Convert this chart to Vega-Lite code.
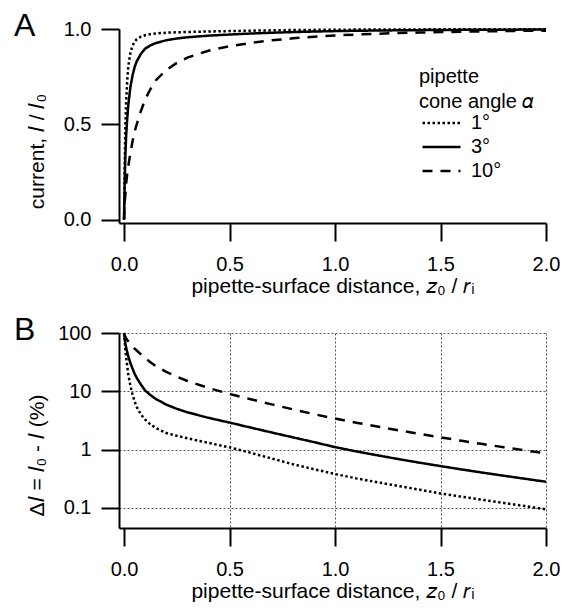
{
 "$schema": "https://vega.github.io/schema/vega-lite/v6.json",
 "background": "white",
 "padding": {"left": 14, "top": 10, "right": 6, "bottom": 2},
 "spacing": 18,
 "config": {
  "font": "Liberation Sans",
  "view": {"stroke": null},
  "axis": {"domainColor": "black", "domainWidth": 2, "tickColor": "black", "tickWidth": 2, "tickSize": 18, "labelFontSize": 20, "titleFontSize": 21, "labelColor": "black", "titleColor": "black", "titleFontWeight": "normal", "labelFont": "Liberation Sans", "titleFont": "Liberation Sans", "gridColor": "#555555", "gridDash": [2, 2], "gridWidth": 1, "labelFlush": false, "labelOverlap": false},
  "axisX": {"labelPadding": 13, "titlePadding": 1},
  "axisY": {"labelPadding": 10, "titleX": -72, "titleY": 122},
  "title": {"fontSize": 32, "fontWeight": "normal", "anchor": "start", "frame": "group", "color": "black", "font": "Liberation Sans", "offset": 0, "dx": -105, "dy": 28, "baseline": "alphabetic"}
 },
 "datasets": {"curves": [
  {"z": 0, "angle": "1°", "I": 0, "dI": 100},
  {"z": 0.003, "angle": "1°", "I": 0.28, "dI": 72},
  {"z": 0.006, "angle": "1°", "I": 0.48, "dI": 52},
  {"z": 0.01, "angle": "1°", "I": 0.62, "dI": 38},
  {"z": 0.015, "angle": "1°", "I": 0.73, "dI": 27},
  {"z": 0.02, "angle": "1°", "I": 0.805, "dI": 19.5},
  {"z": 0.03, "angle": "1°", "I": 0.875, "dI": 12.5},
  {"z": 0.04, "angle": "1°", "I": 0.912, "dI": 8.8},
  {"z": 0.05, "angle": "1°", "I": 0.933, "dI": 6.7},
  {"z": 0.06, "angle": "1°", "I": 0.946, "dI": 5.4},
  {"z": 0.08, "angle": "1°", "I": 0.96, "dI": 4.0},
  {"z": 0.1, "angle": "1°", "I": 0.9675, "dI": 3.25},
  {"z": 0.125, "angle": "1°", "I": 0.973, "dI": 2.7},
  {"z": 0.15, "angle": "1°", "I": 0.9765, "dI": 2.35},
  {"z": 0.2, "angle": "1°", "I": 0.9808, "dI": 1.92},
  {"z": 0.25, "angle": "1°", "I": 0.9828, "dI": 1.72},
  {"z": 0.3, "angle": "1°", "I": 0.9844, "dI": 1.56},
  {"z": 0.4, "angle": "1°", "I": 0.987, "dI": 1.3},
  {"z": 0.5, "angle": "1°", "I": 0.9891, "dI": 1.09},
  {"z": 0.6, "angle": "1°", "I": 0.9912, "dI": 0.88},
  {"z": 0.7, "angle": "1°", "I": 0.993, "dI": 0.7},
  {"z": 0.8, "angle": "1°", "I": 0.9944, "dI": 0.56},
  {"z": 0.9, "angle": "1°", "I": 0.9954, "dI": 0.46},
  {"z": 1.0, "angle": "1°", "I": 0.9962, "dI": 0.38},
  {"z": 1.1, "angle": "1°", "I": 0.9968, "dI": 0.32},
  {"z": 1.2, "angle": "1°", "I": 0.99725, "dI": 0.275},
  {"z": 1.3, "angle": "1°", "I": 0.99763, "dI": 0.237},
  {"z": 1.4, "angle": "1°", "I": 0.99795, "dI": 0.205},
  {"z": 1.5, "angle": "1°", "I": 0.99824, "dI": 0.176},
  {"z": 1.6, "angle": "1°", "I": 0.99845, "dI": 0.155},
  {"z": 1.7, "angle": "1°", "I": 0.99863, "dI": 0.137},
  {"z": 1.8, "angle": "1°", "I": 0.99879, "dI": 0.121},
  {"z": 1.9, "angle": "1°", "I": 0.99893, "dI": 0.107},
  {"z": 2.0, "angle": "1°", "I": 0.99906, "dI": 0.094},
  {"z": 0, "angle": "3°", "I": 0, "dI": 100},
  {"z": 0.003, "angle": "3°", "I": 0.2, "dI": 80},
  {"z": 0.006, "angle": "3°", "I": 0.33, "dI": 67},
  {"z": 0.01, "angle": "3°", "I": 0.44, "dI": 56},
  {"z": 0.015, "angle": "3°", "I": 0.53, "dI": 47},
  {"z": 0.02, "angle": "3°", "I": 0.6, "dI": 40},
  {"z": 0.03, "angle": "3°", "I": 0.695, "dI": 30.5},
  {"z": 0.04, "angle": "3°", "I": 0.755, "dI": 24.5},
  {"z": 0.05, "angle": "3°", "I": 0.8, "dI": 20},
  {"z": 0.06, "angle": "3°", "I": 0.83, "dI": 17},
  {"z": 0.08, "angle": "3°", "I": 0.87, "dI": 13},
  {"z": 0.1, "angle": "3°", "I": 0.897, "dI": 10.3},
  {"z": 0.125, "angle": "3°", "I": 0.914, "dI": 8.6},
  {"z": 0.15, "angle": "3°", "I": 0.926, "dI": 7.4},
  {"z": 0.2, "angle": "3°", "I": 0.941, "dI": 5.9},
  {"z": 0.25, "angle": "3°", "I": 0.95, "dI": 5.0},
  {"z": 0.3, "angle": "3°", "I": 0.9565, "dI": 4.35},
  {"z": 0.4, "angle": "3°", "I": 0.965, "dI": 3.5},
  {"z": 0.5, "angle": "3°", "I": 0.971, "dI": 2.9},
  {"z": 0.6, "angle": "3°", "I": 0.9762, "dI": 2.38},
  {"z": 0.7, "angle": "3°", "I": 0.9804, "dI": 1.96},
  {"z": 0.8, "angle": "3°", "I": 0.9838, "dI": 1.62},
  {"z": 0.9, "angle": "3°", "I": 0.9866, "dI": 1.34},
  {"z": 1.0, "angle": "3°", "I": 0.989, "dI": 1.1},
  {"z": 1.1, "angle": "3°", "I": 0.9907, "dI": 0.93},
  {"z": 1.2, "angle": "3°", "I": 0.99203, "dI": 0.797},
  {"z": 1.3, "angle": "3°", "I": 0.99314, "dI": 0.686},
  {"z": 1.4, "angle": "3°", "I": 0.99405, "dI": 0.595},
  {"z": 1.5, "angle": "3°", "I": 0.9948, "dI": 0.52},
  {"z": 1.6, "angle": "3°", "I": 0.99545, "dI": 0.455},
  {"z": 1.7, "angle": "3°", "I": 0.99599, "dI": 0.401},
  {"z": 1.8, "angle": "3°", "I": 0.99645, "dI": 0.355},
  {"z": 1.9, "angle": "3°", "I": 0.99685, "dI": 0.315},
  {"z": 2.0, "angle": "3°", "I": 0.9972, "dI": 0.28},
  {"z": 0, "angle": "10°", "I": 0, "dI": 100},
  {"z": 0.003, "angle": "10°", "I": 0.09, "dI": 91},
  {"z": 0.006, "angle": "10°", "I": 0.13, "dI": 87},
  {"z": 0.01, "angle": "10°", "I": 0.19, "dI": 81},
  {"z": 0.015, "angle": "10°", "I": 0.24, "dI": 76},
  {"z": 0.02, "angle": "10°", "I": 0.28, "dI": 72},
  {"z": 0.03, "angle": "10°", "I": 0.35, "dI": 65},
  {"z": 0.04, "angle": "10°", "I": 0.41, "dI": 59},
  {"z": 0.05, "angle": "10°", "I": 0.46, "dI": 54},
  {"z": 0.06, "angle": "10°", "I": 0.5, "dI": 50},
  {"z": 0.08, "angle": "10°", "I": 0.57, "dI": 43},
  {"z": 0.1, "angle": "10°", "I": 0.63, "dI": 37},
  {"z": 0.125, "angle": "10°", "I": 0.685, "dI": 31.5},
  {"z": 0.15, "angle": "10°", "I": 0.73, "dI": 27},
  {"z": 0.2, "angle": "10°", "I": 0.785, "dI": 21.5},
  {"z": 0.25, "angle": "10°", "I": 0.822, "dI": 17.8},
  {"z": 0.3, "angle": "10°", "I": 0.85, "dI": 15.0},
  {"z": 0.4, "angle": "10°", "I": 0.886, "dI": 11.4},
  {"z": 0.5, "angle": "10°", "I": 0.91, "dI": 9.0},
  {"z": 0.6, "angle": "10°", "I": 0.927, "dI": 7.3},
  {"z": 0.7, "angle": "10°", "I": 0.9405, "dI": 5.95},
  {"z": 0.8, "angle": "10°", "I": 0.951, "dI": 4.9},
  {"z": 0.9, "angle": "10°", "I": 0.9595, "dI": 4.05},
  {"z": 1.0, "angle": "10°", "I": 0.966, "dI": 3.4},
  {"z": 1.1, "angle": "10°", "I": 0.9711, "dI": 2.89},
  {"z": 1.2, "angle": "10°", "I": 0.9752, "dI": 2.48},
  {"z": 1.3, "angle": "10°", "I": 0.9786, "dI": 2.14},
  {"z": 1.4, "angle": "10°", "I": 0.9814, "dI": 1.86},
  {"z": 1.5, "angle": "10°", "I": 0.9838, "dI": 1.62},
  {"z": 1.6, "angle": "10°", "I": 0.9859, "dI": 1.41},
  {"z": 1.7, "angle": "10°", "I": 0.9876, "dI": 1.24},
  {"z": 1.8, "angle": "10°", "I": 0.98905, "dI": 1.095},
  {"z": 1.9, "angle": "10°", "I": 0.99033, "dI": 0.967},
  {"z": 2.0, "angle": "10°", "I": 0.99142, "dI": 0.858}
 ]},
 "resolve": {"scale": {"strokeDash": "independent"}, "legend": {"strokeDash": "independent"}},
 "vconcat": [
  {
   "width": 427,
   "height": 194,
   "title": {"text": "A"},
   "data": {"name": "curves"},
   "mark": {"type": "line", "color": "black", "strokeWidth": 2.5, "strokeCap": "butt"},
   "encoding": {
    "x": {"field": "z", "type": "quantitative", "scale": {"domain": [-0.024, 2.0], "nice": false, "zero": false},
          "axis": {"values": [0, 0.5, 1, 1.5, 2], "format": ".1f", "grid": false, "title": "pipette-surface distance, 𝑧₀ / 𝑟ᵢ"}},
    "y": {"field": "I", "type": "quantitative", "scale": {"domain": [-0.018, 1.0], "nice": false, "zero": false},
          "axis": {"values": [0, 0.5, 1], "format": ".1f", "grid": false, "title": "current, 𝐼 / 𝐼₀"}},
    "strokeDash": {"field": "angle", "type": "nominal",
          "scale": {"domain": ["1°", "3°", "10°"], "range": [[2.5, 2.5], [1, 0], [10, 8]]},
          "legend": {"orient": "none", "legendX": 300, "legendY": 38, "title": ["pipette", "cone angle 𝛼"],
                     "titleFontSize": 20, "titleFontWeight": "normal", "titleColor": "black", "titleFont": "Liberation Sans", "titleLineHeight": 25, "titlePadding": 0,
                     "labelFontSize": 20, "labelColor": "black", "labelFont": "Liberation Sans", "labelOffset": 30,
                     "symbolType": "M-0.79,0L3.21,0", "symbolSize": 361, "symbolStrokeWidth": 2.5, "symbolStrokeColor": "black", "symbolFillColor": "transparent", "rowPadding": 3}}
   }
  },
  {
   "width": 427,
   "height": 195,
   "title": {"text": "B"},
   "data": {"name": "curves"},
   "mark": {"type": "line", "color": "black", "strokeWidth": 2.5, "strokeCap": "butt"},
   "encoding": {
    "x": {"field": "z", "type": "quantitative", "scale": {"domain": [-0.024, 2.0], "nice": false, "zero": false},
          "axis": {"values": [0, 0.5, 1, 1.5, 2], "format": ".1f", "grid": true, "gridOpacity": {"condition": {"test": "datum.value === 0", "value": 0}, "value": 1}, "title": "pipette-surface distance, 𝑧₀ / 𝑟ᵢ"}},
    "y": {"field": "dI", "type": "quantitative", "scale": {"type": "log", "domain": [0.045, 100], "nice": false},
          "axis": {"values": [0.1, 1, 10, 100], "format": "~g", "grid": true, "title": "Δ𝐼 = 𝐼₀ - 𝐼  (%)"}},
    "strokeDash": {"field": "angle", "type": "nominal",
          "scale": {"domain": ["1°", "3°", "10°"], "range": [[2.5, 2.5], [1, 0], [10, 8]]},
          "legend": null}
   }
  }
 ]
}
